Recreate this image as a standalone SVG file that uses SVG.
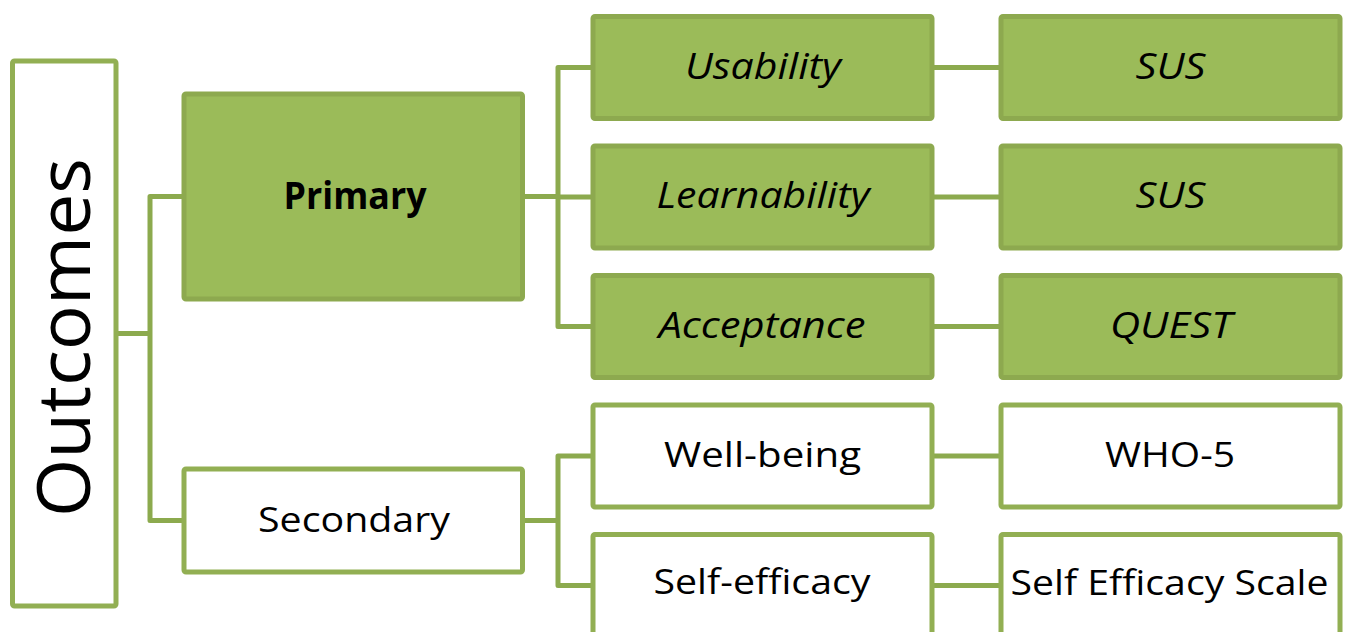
<svg xmlns="http://www.w3.org/2000/svg" width="1348" height="632" viewBox="0 0 1348 632">
  <style>
    .box-white { fill: #ffffff; stroke: #92AF53; stroke-width: 5; }
    .box-green { fill: #9BBB59; stroke: #8DA94F; stroke-width: 5; }
    .link { fill: none; stroke: #8CAA4E; stroke-width: 5; stroke-linejoin: round; }
    text { font-family: "Open Sans", "DejaVu Sans", sans-serif; fill: #000000; text-anchor: middle; }
    .t-reg { font-size: 34px; }
    .t-ital { font-size: 36px; font-style: italic; }
    .t-bold { font-size: 37px; font-weight: bold; }
    .t-root { font-size: 74px; }
  </style>

  <!-- connectors -->
  <g id="connectors">
    <path class="link" d="M118 333.5 H150"/>
    <path class="link" d="M182 196.5 H150 V520.5 H182"/>
    <path class="link" d="M525 196.5 H558"/>
    <path class="link" d="M591 67.5 H558 V326.5 H591"/>
    <path class="link" d="M558 197 H591"/>
    <path class="link" d="M525 520.5 H558"/>
    <path class="link" d="M591 456 H558 V585.5 H591"/>
    <path class="link" d="M934 67.5 H999"/>
    <path class="link" d="M934 197 H999"/>
    <path class="link" d="M934 326.5 H999"/>
    <path class="link" d="M934 456 H999"/>
    <path class="link" d="M934 585.5 H999"/>
  </g>

  <!-- root -->
  <g id="outcomes">
    <rect class="box-white" x="12.5" y="61" width="103.5" height="545" rx="2"/>
    <text class="t-root" transform="translate(90 337.5) rotate(-90)" textLength="359" lengthAdjust="spacingAndGlyphs">Outcomes</text>
  </g>

  <!-- second level -->
  <g id="primary">
    <rect class="box-green" x="184" y="94" width="338.5" height="205" rx="2"/>
    <text class="t-bold" x="355" y="208.5" textLength="143" lengthAdjust="spacingAndGlyphs">Primary</text>
  </g>
  <g id="secondary">
    <rect class="box-white" x="184" y="469" width="338.5" height="103" rx="2"/>
    <text class="t-reg" x="354" y="531.5" textLength="192" lengthAdjust="spacingAndGlyphs">Secondary</text>
  </g>

  <!-- third level -->
  <g id="usability">
    <rect class="box-green" x="593" y="16.5" width="339" height="102" rx="2"/>
    <text class="t-ital" x="763" y="78.5" textLength="156" lengthAdjust="spacingAndGlyphs">Usability</text>
  </g>
  <g id="learnability">
    <rect class="box-green" x="593" y="146" width="339" height="102" rx="2"/>
    <text class="t-ital" x="763" y="208" textLength="213" lengthAdjust="spacingAndGlyphs">Learnability</text>
  </g>
  <g id="acceptance">
    <rect class="box-green" x="593" y="275.5" width="339" height="102" rx="2"/>
    <text class="t-ital" x="762" y="337.5" textLength="207" lengthAdjust="spacingAndGlyphs">Acceptance</text>
  </g>
  <g id="well-being">
    <rect class="box-white" x="593" y="405" width="339" height="102" rx="2"/>
    <text class="t-reg" x="762.5" y="467" textLength="197" lengthAdjust="spacingAndGlyphs">Well-being</text>
  </g>
  <g id="self-efficacy">
    <rect class="box-white" x="593" y="534.5" width="339" height="102" rx="2"/>
    <text class="t-reg" x="762" y="594" textLength="217" lengthAdjust="spacingAndGlyphs">Self-efficacy</text>
  </g>

  <!-- instruments -->
  <g id="sus-usability">
    <rect class="box-green" x="1001" y="16.5" width="339" height="102" rx="2"/>
    <text class="t-ital" x="1170.5" y="78.5" textLength="70" lengthAdjust="spacingAndGlyphs">SUS</text>
  </g>
  <g id="sus-learnability">
    <rect class="box-green" x="1001" y="146" width="339" height="102" rx="2"/>
    <text class="t-ital" x="1170.5" y="208" textLength="70" lengthAdjust="spacingAndGlyphs">SUS</text>
  </g>
  <g id="quest">
    <rect class="box-green" x="1001" y="275.5" width="339" height="102" rx="2"/>
    <text class="t-ital" x="1171" y="337.5" textLength="122" lengthAdjust="spacingAndGlyphs">QUEST</text>
  </g>
  <g id="who-5">
    <rect class="box-white" x="1001" y="405" width="339" height="102" rx="2"/>
    <text class="t-reg" x="1170" y="466.5" textLength="130" lengthAdjust="spacingAndGlyphs">WHO-5</text>
  </g>
  <g id="self-efficacy-scale">
    <rect class="box-white" x="1001" y="534.5" width="339" height="102" rx="2"/>
    <text class="t-reg" x="1169.5" y="595" textLength="318" lengthAdjust="spacingAndGlyphs">Self Efficacy Scale</text>
  </g>
</svg>
